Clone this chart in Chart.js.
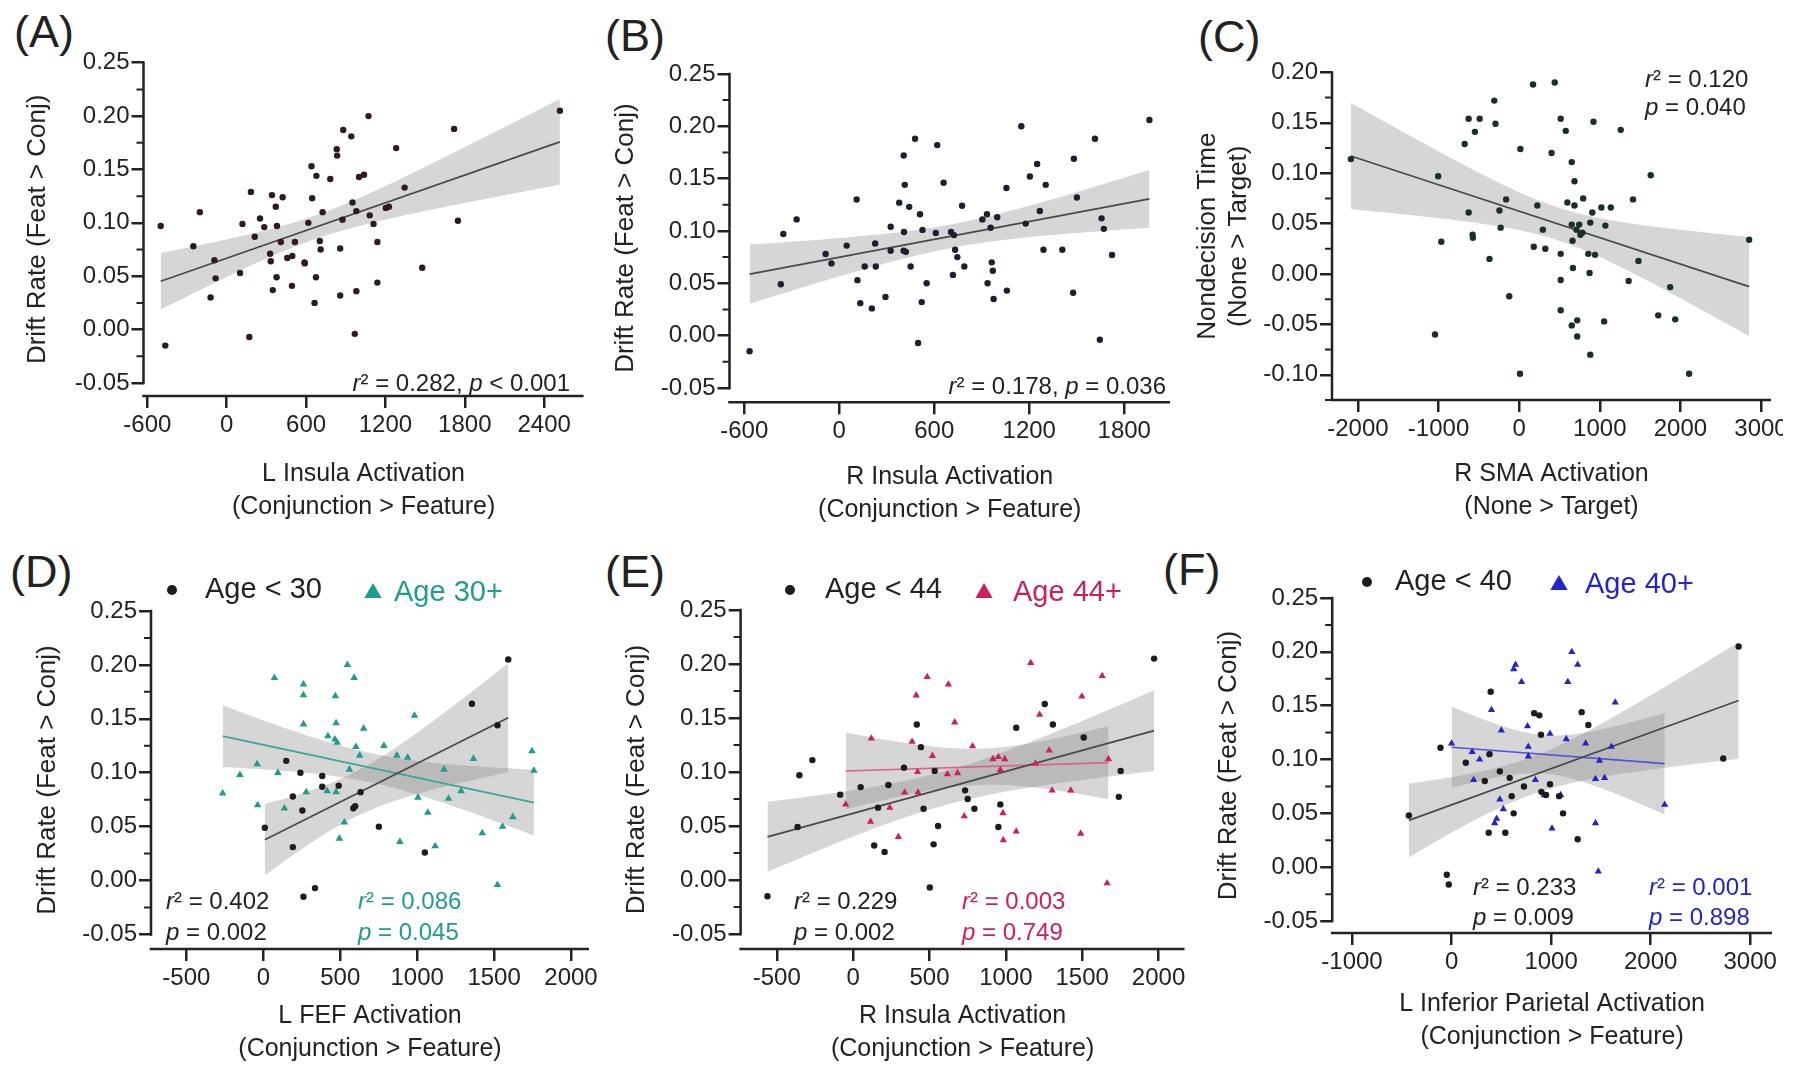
<!DOCTYPE html>
<html>
<head>
<meta charset="utf-8">
<script src="https://cdn.jsdelivr.net/npm/chart.js@4.4.1/dist/chart.umd.min.js"></script>
<style>
  body { margin: 0; width: 1800px; height: 1071px; background: #fff; position: relative; overflow: hidden; }
  .panel { position: absolute; overflow: hidden; }
  .tag { position: absolute; font: 45px "Liberation Sans", Arial, sans-serif; color: #222; line-height: 1; }
</style>
</head>
<body>
<div class="tag" style="left:14px;top:9px">(A)</div>
<div class="tag" style="left:605px;top:13px">(B)</div>
<div class="tag" style="left:1198px;top:14px">(C)</div>
<div class="tag" style="left:10px;top:549px">(D)</div>
<div class="tag" style="left:605px;top:549px">(E)</div>
<div class="tag" style="left:1163px;top:547px">(F)</div>

<div class="panel" style="left:0px;top:20px;width:600px;height:510px"><canvas id="cA" width="600" height="510"></canvas></div>
<div class="panel" style="left:600px;top:20px;width:590px;height:510px"><canvas id="cB" width="590" height="510"></canvas></div>
<div class="panel" style="left:1185px;top:20px;width:598px;height:510px"><canvas id="cC" width="615" height="510"></canvas></div>
<div class="panel" style="left:0px;top:560px;width:605px;height:511px"><canvas id="cD" width="605" height="511"></canvas></div>
<div class="panel" style="left:600px;top:560px;width:590px;height:511px"><canvas id="cE" width="590" height="511"></canvas></div>
<div class="panel" style="left:1185px;top:550px;width:615px;height:521px"><canvas id="cF" width="615" height="521"></canvas></div>

<script>
// ---- data ----

// (A) L insula vs drift rate
const aX = [-499,-464,-252,-203,-122,-93,-84,101,119,171,183,252,212,284,342,371,380,328,333,348,377,409,423,458,496,493,516,588,590,617,641,646,678,675,664,704,710,725,783,832,835,858,858,875,881,942,951,980,980,968,1000,1038,1072,1081,1110,1139,1139,1203,1226,1281,1345,1478,1719,1748,2519];
const aY = [0.097,-0.015,0.078,0.110,0.030,0.065,0.048,0.053,0.099,-0.007,0.129,0.104,0.087,0.096,0.126,0.115,0.097,0.071,0.064,0.037,0.049,0.082,0.124,0.067,0.069,0.041,0.082,0.063,0.062,0.100,0.153,0.123,0.144,0.049,0.025,0.083,0.075,0.110,0.141,0.169,0.163,0.076,0.032,0.103,0.187,0.181,0.119,0.111,0.036,-0.004,0.143,0.145,0.200,0.107,0.099,0.082,0.044,0.114,0.115,0.170,0.133,0.058,0.188,0.102,0.205];

// (B) R insula vs drift rate
const bX = [-566,-369,-353,-269,-86,-49,47,110,115,133,161,206,227,231,292,325,325,379,407,409,414,407,421,442,451,479,510,521,498,526,552,610,619,659,706,718,725,732,746,776,790,904,933,937,956,963,970,975,998,1059,1056,1150,1178,1204,1250,1267,1304,1290,1409,1482,1477,1501,1615,1646,1657,1671,1723,1959];
const bY = [-0.015,0.049,0.097,0.111,0.078,0.069,0.086,0.130,0.053,0.031,0.066,0.026,0.088,0.066,0.037,0.104,0.081,0.127,0.172,0.099,0.144,0.081,0.080,0.123,0.066,0.188,0.116,0.032,-0.007,0.101,0.050,0.098,0.182,0.146,0.099,0.058,0.096,0.082,0.075,0.124,0.066,0.111,0.116,0.050,0.103,0.070,0.062,0.035,0.113,0.043,0.141,0.200,0.107,0.152,0.164,0.119,0.144,0.082,0.082,0.169,0.041,0.132,0.188,-0.004,0.112,0.102,0.077,0.206];

// (C) R SMA vs nondecision time
const cX = [-2088,-1005,-1044,-966,-676,-627,-627,-578,-574,-549,-490,-368,-309,-294,-245,-230,-162,-123,15,10,172,181,225,294,324,402,441,515,515,515,515,578,598,652,652,662,667,652,686,686,711,720,720,745,760,794,784,858,873,882,882,907,922,941,1020,1054,1069,1137,1260,1358,1412,1480,1632,1725,1873,1936,2108,2853];
const cY = [0.114,0.097,-0.060,0.032,0.129,0.154,0.061,0.039,0.036,0.141,0.154,0.015,0.172,0.149,0.063,0.046,0.074,-0.022,0.124,-0.099,0.188,0.027,0.068,0.044,0.025,0.120,0.190,0.154,0.020,-0.006,-0.036,0.142,0.071,0.111,0.049,0.033,0.006,-0.051,0.092,0.068,0.044,-0.046,-0.062,0.049,0.039,0.075,0.041,0.020,0.001,0.051,-0.080,0.061,0.151,0.019,0.066,-0.047,0.048,0.066,0.143,-0.007,0.074,0.013,0.098,-0.041,-0.013,-0.045,-0.099,0.034];

// (D) L FEF, split at age 30
const dYoungX = [10,149,192,192,241,254,261,336,383,383,490,585,597,632,751,1050,1356,1522,1592];
const dYoungY = [0.049,0.111,0.078,0.031,0.100,0.065,-0.015,-0.007,0.097,0.087,0.088,0.067,0.069,0.082,0.050,0.026,0.164,0.144,0.205];
const dOldX = [-264,-152,-40,-37,72,95,137,261,261,261,279,420,415,465,468,473,480,473,495,527,547,560,590,602,627,652,784,868,888,938,983,1005,1069,1117,1174,1204,1286,1366,1423,1522,1555,1622,1746,1759];
const dOldY = [0.081,0.098,0.108,0.070,0.188,0.100,0.067,0.182,0.172,0.145,0.082,0.134,0.083,0.131,0.171,0.146,0.128,0.082,0.039,0.054,0.200,0.103,0.188,0.124,0.116,0.141,0.125,0.116,0.036,0.114,0.153,0.077,0.063,0.032,0.103,0.076,0.083,0.113,0.044,-0.004,0.050,0.059,0.120,0.102];

// (E) R insula, split at age 44
const eYoungX = [-561,-364,-352,-267,-85,49,138,163,206,231,333,417,444,461,502,527,534,556,733,750,794,951,964,1068,1255,1308,1510,1740,1752,1971];
const eYoungY = [-0.015,0.049,0.097,0.111,0.079,0.086,0.032,0.067,0.026,0.088,0.104,0.144,0.123,0.066,-0.007,0.033,0.101,0.050,0.083,0.075,0.066,0.049,0.070,0.141,0.163,0.144,0.132,0.077,0.101,0.205];
const eOldX = [-49,114,119,240,296,337,386,413,422,425,485,519,624,617,665,684,728,782,915,951,993,964,981,983,1068,1163,1194,1221,1284,1303,1425,1498,1490,1631,1663,1672];
const eOldY = [0.070,0.054,0.131,0.067,0.040,0.081,0.128,0.171,0.100,0.081,0.188,0.115,0.181,0.098,0.146,0.099,0.059,0.124,0.112,0.114,0.112,0.102,0.062,0.037,0.045,0.201,0.108,0.153,0.120,0.083,0.083,0.170,0.043,0.189,-0.003,0.112];

// (F) L inferior parietal, split at age 40
const fYoungX = [-429,-111,-48,-28,143,334,373,393,381,485,540,584,604,624,727,830,882,898,902,949,989,1080,1120,1267,1307,1374,2729,2884];
const fYoungY = [0.048,0.111,-0.007,-0.016,0.097,0.080,0.032,0.163,0.105,0.089,0.032,0.083,0.066,0.050,0.075,0.143,0.141,0.123,0.070,0.067,0.077,0.066,0.050,0.026,0.144,0.132,0.101,0.205];
const fOldX = [0,207,222,282,401,433,453,485,500,520,624,643,703,763,771,771,842,929,989,1009,1096,1168,1152,1208,1267,1347,1446,1446,1486,1474,1537,1605,1644,2141];
const fOldY = [0.115,0.107,0.081,0.100,0.146,0.041,0.045,0.063,0.127,0.054,0.184,0.188,0.172,0.131,0.112,0.103,0.081,0.067,0.124,0.036,0.067,0.172,0.119,0.200,0.188,0.115,0.082,0.041,0.099,-0.004,0.083,0.112,0.153,0.058];

// tick labels
const ticksXA = [-600, 0, 600, 1200, 1800, 2400];
const ticksXB = [-600, 0, 600, 1200, 1800];
const ticksXC = [-2000, -1000, 0, 1000, 2000, 3000];
const ticksXDE = [-500, 0, 500, 1000, 1500, 2000];
const ticksXF = [-1000, 0, 1000, 2000, 3000];
const ticksYDrift = [-0.05, 0, 0.05, 0.10, 0.15, 0.20, 0.25];
const ticksYNdt = [-0.10, -0.05, 0, 0.05, 0.10, 0.15, 0.20];
const minorYDrift = [-0.025, 0.025, 0.075, 0.125, 0.175, 0.225];
const minorYNdt = [-0.125, -0.075, -0.025, 0.025, 0.075, 0.125, 0.175];

// ---- styling ----
const FONT = '"Liberation Sans", Arial, sans-serif';
const INK = '#222';
const BAND = 'rgba(120,120,120,0.30)';
const TEAL = '#1f9c8a', PINK = '#cc2058', BLUE = '#2424c8';
const TICK_SIZE = 24;
const XT_SIZE = 25, XT_LH = 1.32;
const YT_SIZE = 26, YT_LH = 1.2;

Chart.defaults.font.family = FONT;
Chart.defaults.color = INK;

// least squares line + 95% band of the mean, from a group's points
function regression(xs, ys, steps) {
  const n = xs.length;
  const mx = xs.reduce((s, v) => s + v, 0) / n;
  const my = ys.reduce((s, v) => s + v, 0) / n;
  let sxx = 0, sxy = 0;
  for (let i = 0; i < n; i++) {
    sxx += (xs[i] - mx) ** 2;
    sxy += (xs[i] - mx) * (ys[i] - my);
  }
  const b = sxy / sxx, a = my - b * mx;
  let sse = 0;
  for (let i = 0; i < n; i++) sse += (ys[i] - a - b * xs[i]) ** 2;
  const s = Math.sqrt(sse / (n - 2));
  const t = 1.96 + 2.4 / (n - 2);
  const x0 = Math.min(...xs), x1 = Math.max(...xs);
  const lo = [], hi = [];
  for (let k = 0; k <= steps; k++) {
    const x = x0 + (x1 - x0) * k / steps;
    const h = t * s * Math.sqrt(1 / n + (x - mx) ** 2 / sxx);
    lo.push({x, y: a + b * x - h});
    hi.push({x, y: a + b * x + h});
  }
  return {line: [{x: x0, y: a + b * x0}, {x: x1, y: a + b * x1}], lo, hi};
}

function richText(ctx, x, y, str, color, align) {
  // *...* marks italic runs
  const parts = str.split('*').map((t, i) => [t, i % 2 === 1]).filter(p => p[0]);
  const fontOf = it => (it ? 'italic ' : '') + '24px ' + FONT;
  let w = 0;
  parts.forEach(p => { ctx.font = fontOf(p[1]); w += ctx.measureText(p[0]).width; });
  let cx = align === 'right' ? x - w : x;
  ctx.fillStyle = color;
  ctx.textBaseline = 'middle';
  ctx.textAlign = 'left';
  parts.forEach(p => { ctx.font = fontOf(p[1]); ctx.fillText(p[0], cx, y); cx += ctx.measureText(p[0]).width; });
}

const prismAxes = {
  id: 'prismAxes',
  beforeDatasetsDraw(chart, args, o) {
    const {ctx, chartArea: ca, scales: {y}} = chart;
    ctx.save();
    ctx.strokeStyle = INK;
    ctx.lineWidth = 2.5;
    ctx.beginPath();
    ctx.moveTo(ca.left, y.getPixelForValue(o.ySpan[1]) - 1.25);
    ctx.lineTo(ca.left, y.getPixelForValue(o.ySpan[0]) + 1.25);
    ctx.moveTo(ca.left - 1.25, ca.bottom);
    ctx.lineTo(ca.right, ca.bottom);
    ctx.stroke();
    ctx.lineWidth = 2;
    ctx.beginPath();
    o.yMinor.forEach(v => {
      const py = y.getPixelForValue(v);
      ctx.moveTo(ca.left - 7, py);
      ctx.lineTo(ca.left, py);
    });
    ctx.stroke();
    ctx.restore();
  },
  afterDraw(chart, args, o) {
    const ctx = chart.ctx;
    ctx.save();
    o.stats.forEach(s => richText(ctx, s.x - o.ox, s.y - o.oy, s.text, s.color, s.align));
    o.legend.forEach(l => {
      ctx.fillStyle = l.color;
      Chart.helpers.drawPoint(ctx, {pointStyle: l.style, radius: l.r, rotation: 0, borderWidth: 0}, l.x - o.ox, l.y - o.oy);
      ctx.font = '29px ' + FONT;
      ctx.textBaseline = 'middle';
      ctx.textAlign = 'left';
      ctx.fillStyle = l.textColor;
      ctx.fillText(l.text, l.tx - o.ox, l.y - o.oy);
    });
    ctx.restore();
  }
};

const panels = [
  {canvas: 'cA', box: [0, 20, 600, 510], area: [143.5, 62.7, 583.6, 396],
   xRange: [-629, 2698], yRange: [-0.0622, 0.25], ySpan: [-0.05, 0.25],
   xTicks: ticksXA, yTicks: ticksYDrift, yMinor: minorYDrift,
   yTitle: 'Drift Rate (Feat > Conj)', yTitleX: 38,
   xTitle: ['L Insula Activation', '(Conjunction > Feature)'], xTitleY: 507,
   groups: [{xs: aX, ys: aY, color: '#2e1a20', style: 'circle', r: 3.2, line: '#4a4a4a'}],
   stats: [{x: 570, y: 384, text: '*r*\u00b2 = 0.282, *p* < 0.001', color: INK, align: 'right'}],
   legend: []},
  {canvas: 'cB', box: [600, 20, 590, 510], area: [729.5, 73.9, 1170, 402.3],
   xRange: [-693, 2089], yRange: [-0.0637, 0.25], ySpan: [-0.05, 0.25],
   xTicks: ticksXB, yTicks: ticksYDrift, yMinor: minorYDrift,
   yTitle: 'Drift Rate (Feat > Conj)', yTitleX: 626,
   xTitle: ['R Insula Activation', '(Conjunction > Feature)'], xTitleY: 510,
   groups: [{xs: bX, ys: bY, color: '#1b2030', style: 'circle', r: 3.2, line: '#4a4a4a'}],
   stats: [{x: 1166, y: 387, text: '*r*\u00b2 = 0.178, *p* = 0.036', color: INK, align: 'right'}],
   legend: []},
  {canvas: 'cC', box: [1185, 20, 615, 510], area: [1332, 72.4, 1771, 400],
   xRange: [-2322, 3124], yRange: [-0.125, 0.20], ySpan: [-0.125, 0.20],
   xTicks: ticksXC, yTicks: ticksYNdt, yMinor: minorYNdt,
   yTitle: ['Nondecision Time', '(None > Target)'], yTitleX: 1208,
   xTitle: ['R SMA Activation', '(None > Target)'], xTitleY: 507,
   groups: [{xs: cX, ys: cY, color: '#183028', style: 'circle', r: 3.2, line: '#4a4a4a'}],
   stats: [{x: 1645, y: 80, text: '*r*\u00b2 = 0.120', color: INK, align: 'left'},
           {x: 1645, y: 108, text: '*p* = 0.040', color: INK, align: 'left'}],
   legend: []},
  {canvas: 'cD', box: [0, 560, 605, 511], area: [151, 611, 589, 949],
   xRange: [-730, 2117], yRange: [-0.0635, 0.25], ySpan: [-0.05, 0.25],
   xTicks: ticksXDE, yTicks: ticksYDrift, yMinor: minorYDrift,
   yTitle: 'Drift Rate (Feat > Conj)', yTitleX: 48,
   xTitle: ['L FEF Activation', '(Conjunction > Feature)'], xTitleY: 1049,
   groups: [{xs: dYoungX, ys: dYoungY, color: '#1c1c1c', style: 'circle', r: 3.2, line: '#4a4a4a'},
            {xs: dOldX, ys: dOldY, color: TEAL, style: 'triangle', r: 4.4, line: '#3aa898'}],
   stats: [{x: 166, y: 902, text: '*r*\u00b2 = 0.402', color: INK, align: 'left'},
           {x: 166, y: 933, text: '*p* = 0.002', color: INK, align: 'left'},
           {x: 358, y: 902, text: '*r*\u00b2 = 0.086', color: TEAL, align: 'left'},
           {x: 358, y: 933, text: '*p* = 0.045', color: TEAL, align: 'left'}],
   legend: [{x: 172, y: 590, style: 'circle', r: 5, color: '#1c1c1c', tx: 205, text: 'Age < 30', textColor: INK},
            {x: 373, y: 593, style: 'triangle', r: 10, color: TEAL, tx: 394, text: 'Age 30+', textColor: TEAL}]},
  {canvas: 'cE', box: [600, 560, 590, 511], area: [740.6, 610, 1184.5, 949],
   xRange: [-737, 2170], yRange: [-0.0639, 0.25], ySpan: [-0.05, 0.25],
   xTicks: ticksXDE, yTicks: ticksYDrift, yMinor: minorYDrift,
   yTitle: 'Drift Rate (Feat > Conj)', yTitleX: 637,
   xTitle: ['R Insula Activation', '(Conjunction > Feature)'], xTitleY: 1049,
   groups: [{xs: eYoungX, ys: eYoungY, color: '#1c1c1c', style: 'circle', r: 3.2, line: '#4a4a4a'},
            {xs: eOldX, ys: eOldY, color: PINK, style: 'triangle', r: 4.2, line: '#d8628a'}],
   stats: [{x: 794, y: 902, text: '*r*\u00b2 = 0.229', color: INK, align: 'left'},
           {x: 794, y: 933, text: '*p* = 0.002', color: INK, align: 'left'},
           {x: 962, y: 902, text: '*r*\u00b2 = 0.003', color: PINK, align: 'left'},
           {x: 962, y: 933, text: '*p* = 0.749', color: PINK, align: 'left'}],
   legend: [{x: 790, y: 590, style: 'circle', r: 5, color: '#1c1c1c', tx: 825, text: 'Age < 44', textColor: INK},
            {x: 984, y: 593, style: 'triangle', r: 10, color: PINK, tx: 1013, text: 'Age 44+', textColor: PINK}]},
  {canvas: 'cF', box: [1185, 550, 615, 521], area: [1332.2, 598, 1772, 933],
   xRange: [-1199, 3219], yRange: [-0.0611, 0.25], ySpan: [-0.05, 0.25],
   xTicks: ticksXF, yTicks: ticksYDrift, yMinor: minorYDrift,
   yTitle: 'Drift Rate (Feat > Conj)', yTitleX: 1229,
   xTitle: ['L Inferior Parietal Activation', '(Conjunction > Feature)'], xTitleY: 1037,
   groups: [{xs: fYoungX, ys: fYoungY, color: '#1c1c1c', style: 'circle', r: 3.2, line: '#4a4a4a'},
            {xs: fOldX, ys: fOldY, color: BLUE, style: 'triangle', r: 4.2, line: '#5252e0'}],
   stats: [{x: 1473, y: 888, text: '*r*\u00b2 = 0.233', color: INK, align: 'left'},
           {x: 1473, y: 918, text: '*p* = 0.009', color: INK, align: 'left'},
           {x: 1649, y: 888, text: '*r*\u00b2 = 0.001', color: BLUE, align: 'left'},
           {x: 1649, y: 918, text: '*p* = 0.898', color: BLUE, align: 'left'}],
   legend: [{x: 1367, y: 582, style: 'circle', r: 5, color: '#1c1c1c', tx: 1395, text: 'Age < 40', textColor: INK},
            {x: 1559, y: 585, style: 'triangle', r: 10, color: BLUE, tx: 1585, text: 'Age 40+', textColor: BLUE}]}
];

function buildChart(p) {
  const [bl, bt, bw, bh] = p.box;
  const [al, at, ar, ab] = p.area;
  const points = [], lines = [], bands = [];
  p.groups.forEach(g => {
    const fit = regression(g.xs, g.ys, 60);
    points.push({type: 'scatter', data: g.xs.map((x, i) => ({x, y: g.ys[i]})),
      pointStyle: g.style, pointRadius: g.r, backgroundColor: g.color, borderWidth: 0});
    lines.push({type: 'line', data: fit.line, borderColor: g.line, borderWidth: 1.7,
      pointRadius: 0, fill: false});
    bands.push({type: 'line', data: fit.lo, borderWidth: 0, borderColor: 'rgba(0,0,0,0)',
      pointRadius: 0, fill: false});
    bands.push({type: 'line', data: fit.hi, borderWidth: 0, borderColor: 'rgba(0,0,0,0)',
      pointRadius: 0, fill: '-1', backgroundColor: BAND});
  });

  const tickGrid = {display: true, drawOnChartArea: false, drawTicks: true, tickLength: 12,
    color: INK, lineWidth: 2.5, tickWidth: 2.5, tickColor: INK};

  new Chart(document.getElementById(p.canvas), {
    type: 'scatter',
    data: {datasets: [...points, ...lines, ...bands]},
    options: {
      responsive: false,
      animation: false,
      events: [],
      layout: {padding: {left: 0, top: at - bt, right: bl + bw - ar, bottom: 0}},
      plugins: {
        legend: {display: false},
        tooltip: {enabled: false},
        prismAxes: {ox: bl, oy: bt, ySpan: p.ySpan, yMinor: p.yMinor, stats: p.stats, legend: p.legend}
      },
      scales: {
        x: {
          type: 'linear', min: p.xRange[0], max: p.xRange[1],
          afterBuildTicks: s => { s.ticks = p.xTicks.map(v => ({value: v})); },
          afterFit: s => { s.height = bt + bh - ab; },
          grid: tickGrid,
          border: {display: false},
          ticks: {callback: v => String(v), font: {size: TICK_SIZE}, color: INK, padding: 3, maxRotation: 0, autoSkip: false},
          title: {display: true, text: p.xTitle, color: INK,
            font: {size: XT_SIZE, lineHeight: XT_LH},
            padding: {top: 0, bottom: bt + bh - p.xTitleY - XT_SIZE * XT_LH / 2}}
        },
        y: {
          type: 'linear', min: p.yRange[0], max: p.yRange[1],
          afterBuildTicks: s => { s.ticks = p.yTicks.map(v => ({value: v})); },
          afterFit: s => { s.width = al - bl; },
          grid: tickGrid,
          border: {display: false},
          ticks: {callback: v => Number(v).toFixed(2), font: {size: TICK_SIZE}, color: INK, padding: 2, autoSkip: false},
          title: {display: true, text: p.yTitle, color: INK,
            font: {size: YT_SIZE, lineHeight: YT_LH},
            padding: {top: p.yTitleX - bl - YT_SIZE * YT_LH / 2, bottom: 0}}
        }
      }
    },
    plugins: [prismAxes]
  });
}

panels.forEach(buildChart);
</script>
</body>
</html>
